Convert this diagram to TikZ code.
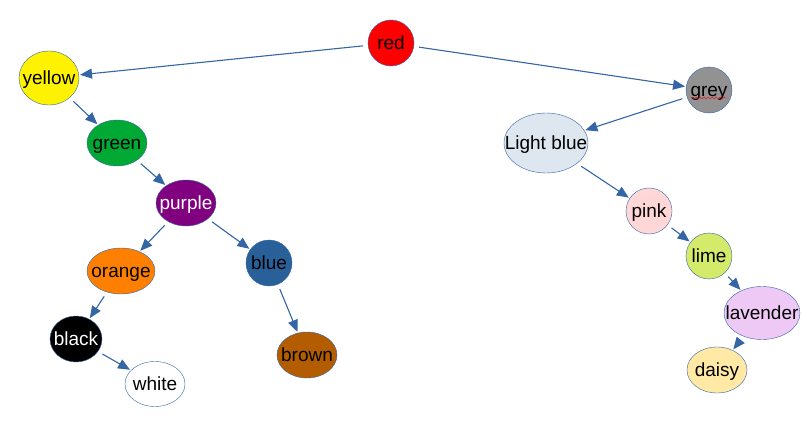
\documentclass[tikz,border=0pt]{standalone}
\usepackage{fontspec}
\setmainfont{Liberation Sans}
\usepackage{xcolor}
\usetikzlibrary{
    arrows.meta,
    shapes.geometric,
    decorations.pathmorphing
}

\definecolor{lineblue}{HTML}{3465A4}
\definecolor{cgreen}{HTML}{00A933}
\definecolor{cpurple}{HTML}{800080}
\definecolor{corange}{HTML}{FF8000}
\definecolor{cblue}{HTML}{2A6099}
\definecolor{cbrown}{HTML}{B45C00}
\definecolor{cgrey}{HTML}{929292}
\definecolor{clightblue}{HTML}{DEE6EF}
\definecolor{cpink}{HTML}{FFD7D7}
\definecolor{clime}{HTML}{D4EA6B}
\definecolor{clavender}{HTML}{EFC9F6}
\definecolor{cdaisy}{HTML}{FFE9A4}

\tikzset{
    colour/.style={ellipse, draw=lineblue, inner sep=0pt,
        text height=12.5pt, text depth=0pt,
        font=\fontsize{19}{22}\selectfont},
    link/.style={draw=lineblue, line width=1.1pt, shorten <=5pt, shorten >=1pt,
        -{Triangle[length=12pt, width=10pt]}}
}

\begin{document}
\begin{tikzpicture}[x=1pt, y=-1pt]
                        \useasboundingbox (0, 0) rectangle (807, 436);

                        \node[colour, fill=red, minimum width=46, minimum height=46] (red) at (391, 43) {\makebox[0pt]{red}};
                        \node[colour, fill=yellow, minimum width=60, minimum height=54] (yellow) at (49, 78) {\makebox[0pt]{yellow}};
                        \node[colour, fill=cgreen, minimum width=60, minimum height=46] (green) at (117, 143) {\makebox[0pt]{green}};
                        \node[colour, fill=cpurple, text=white, minimum width=60, minimum height=46] (purple) at (186, 203) {\makebox[0pt]{purple}};
                        \node[colour, fill=corange, minimum width=68, minimum height=46] (orange) at (121, 271) {\makebox[0pt]{orange}};
                        \node[colour, fill=cblue, minimum width=46, minimum height=46] (blue) at (269, 263) {\makebox[0pt]{blue}};
                        \node[colour, fill=black, text=white, minimum width=52, minimum height=46] (black) at (76, 339) {\makebox[0pt]{black}};
                        \node[colour, fill=white, minimum width=60, minimum height=45] (white) at (155, 384) {\makebox[0pt]{white}};
                        \node[colour, fill=cbrown, minimum width=60, minimum height=46] (brown) at (307, 355) {\makebox[0pt]{brown}};

                        \node[colour, fill=cgrey, minimum width=46, minimum height=46] (grey) at (709, 90) {\makebox[0pt]{grey}};
                        \node[colour, fill=clightblue, minimum width=84, minimum height=60] (lightblue) at (546, 143) {\makebox[0pt]{Light blue}};
                        \node[colour, fill=cpink, minimum width=46, minimum height=46] (pink) at (649, 211) {\makebox[0pt]{pink}};
                        \node[colour, fill=clime, minimum width=46, minimum height=46] (lime) at (709, 256) {\makebox[0pt]{lime}};
                        \node[colour, fill=clavender, minimum width=76, minimum height=53] (lavender) at (762, 313) {\makebox[0pt]{lavender}};
                        \node[colour, fill=cdaisy, minimum width=60, minimum height=46] (daisy) at (717, 370) {\makebox[0pt]{daisy}};

                        % spell check mark under grey
                        \draw[red, decorate, decoration={snake, amplitude=0.8pt, segment length=4pt}]
                        ([shift={(-18, 8)}]grey.center) -- ([shift={(18, 8)}]grey.center);

                        \draw
                        (red) edge[link] (yellow)
                        (yellow) edge[link] (green)
                        (green) edge[link] (purple)
                        (purple) edge[link] (orange)
                        (purple) edge[link] (blue)
                        (orange) edge[link] (black)
                        (black) edge[link] (white)
                        (blue) edge[link] (brown);

                        \draw
                        (red) edge[link] (grey)
                        (grey) edge[link] (lightblue)
                        (lightblue) edge[link] (pink)
                        (pink) edge[link] (lime)
                        (lime) edge[link] (lavender)
                        (lavender) edge[link] (daisy);
                    \end{tikzpicture}
\end{document}
